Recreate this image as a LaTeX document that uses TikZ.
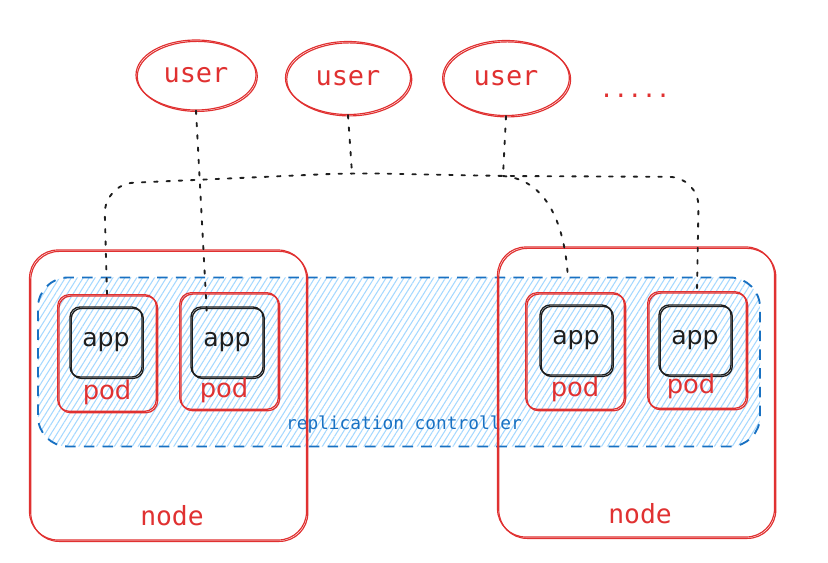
\documentclass[tikz,border=0pt]{standalone}
\usepackage{fontspec}
\setmainfont{DejaVu Sans}
\setmonofont{DejaVu Sans Mono}
\usepackage{tikz}
\usetikzlibrary{positioning,shapes.geometric,patterns.meta}
\definecolor{skred}{HTML}{E03131}
\definecolor{skblue}{HTML}{1971C2}
\definecolor{skhatch}{HTML}{A5D8FF}
\definecolor{skink}{HTML}{1E1E1E}

\begin{document}
\begin{tikzpicture}[
  x=0.03cm,y=-0.03cm,
  rough/.style={postaction={draw,transform canvas={shift={(1.1pt,-1.2pt)}}}},
  user/.style={ellipse,draw=skred,line width=1pt,rough,text=skred,font=\ttfamily\fontsize{23}{26}\selectfont},
  host/.style={rectangle,rounded corners=0.85cm,draw=skred,line width=1pt,rough,minimum width=8.31cm,minimum height=8.7cm},
  hostlab/.style={text=skred,font=\ttfamily\fontsize{22.5}{26}\selectfont},
  pod/.style={rectangle,rounded corners=0.35cm,draw=skred,line width=1.1pt,rough,minimum width=2.96cm,minimum height=3.5cm},
  podlab/.style={text=skred,font=\fontsize{22}{26}\selectfont},
  app/.style={rectangle,rounded corners=0.3cm,draw=skink,line width=1.1pt,rough,minimum width=2.16cm,minimum height=2.1cm,text=skink,font=\fontsize{21.5}{25}\selectfont},
  wire/.style={draw=skink,line width=1.6pt,line cap=round,dash pattern=on 3pt off 7.5pt}]

\useasboundingbox (0,0) rectangle (828,563);

% replication controller
\node[rectangle,rounded corners=0.9cm,draw=skblue,line width=1.6pt,dash pattern=on 9pt off 7pt,
  pattern={Lines[angle=58,distance=4.3pt,line width=0.9pt]},pattern color=skhatch,
  minimum width=21.66cm,minimum height=5.07cm] (rc) at (399,362) {};
\node[text=skblue,font=\ttfamily\fontsize{15.2}{18}\selectfont] (rclab) at (404,425) {replication controller};

% hosts
\node[host] (nodeL) at (168,395) {};
\node[host] (nodeR) at (636,392) {};
\node[hostlab] (nodeLlab) at (172,516) {node};
\node[hostlab] (nodeRlab) at (640,514) {node};

% pods
\node[pod] (pod1) at (107,353) {};
\node[pod] (pod2) at (229,351) {};
\node[pod] (pod3) at (575,351) {};
\node[pod] (pod4) at (697,350) {};
\node[app] (app1) at (106,342) {app};
\node[app] (app2) at (227,342) {app};
\node[app] (app3) at (576,340) {app};
\node[app] (app4) at (695,340) {app};
\node[podlab] (pod1lab) at (107,392) {pod};
\node[podlab] (pod2lab) at (224,390) {pod};
\node[podlab] (pod3lab) at (575,389) {pod};
\node[podlab] (pod4lab) at (691,386) {pod};

% users
\node[user,minimum width=3.6cm,minimum height=2.1cm] (user1) at (196,75) {user};
\node[user,minimum width=3.75cm,minimum height=2.19cm] (user2) at (348,78) {user};
\node[user,minimum width=3.8cm,minimum height=2.25cm] (user3) at (506,78) {user};
\node[text=skred,font=\ttfamily\fontsize{20}{24}\selectfont] (more) at (635,96) {.....};

% dotted wiring
\coordinate (hub2) at (352,173);
\coordinate (hub3) at (503,176);
\path[wire,rounded corners=0.9cm] (pod1.north) -- (104,184) -- (hub2) -- (hub3) -- (699,177) -- (pod4.north);
\path[wire] (user1.south) -- ([shift={(-20,10)}]app2.north);
\path[wire] (user2.south) -- (hub2);
\path[wire] (user3.south) -- (hub3);
\path[wire] (hub3) .. controls (552,180) and (566,235) .. ([shift={(-7,-12)}]pod3.north);
\end{tikzpicture}
\end{document}
